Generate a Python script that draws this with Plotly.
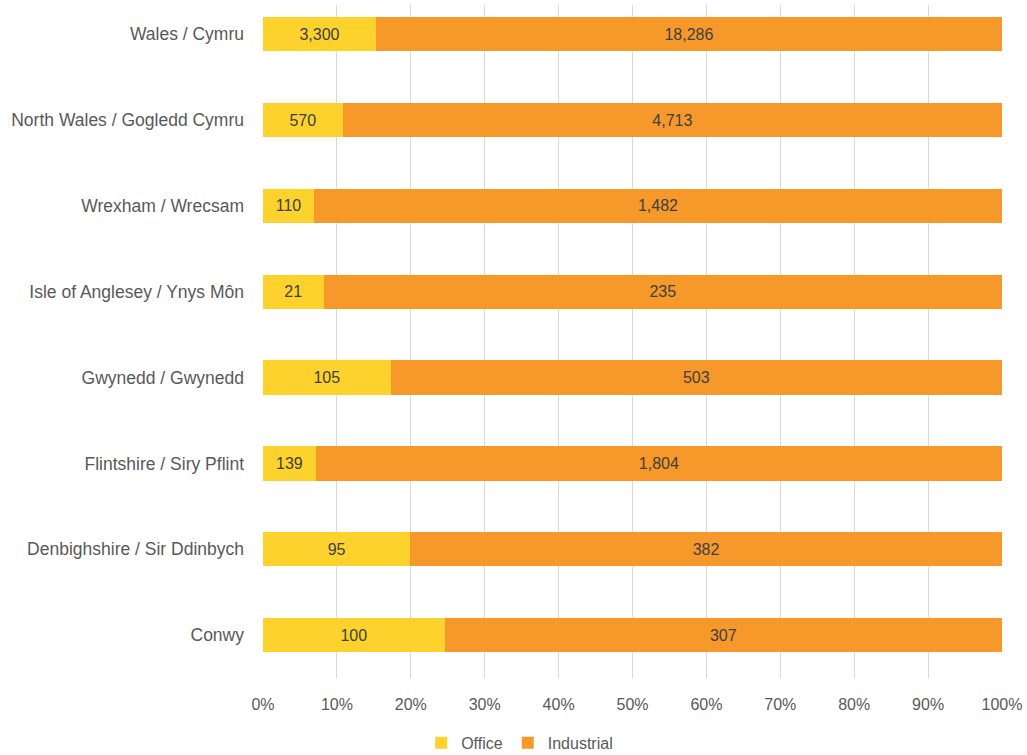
import plotly.graph_objects as go

# Areas listed bottom-to-top as they appear on the y axis
areas = [
    "Conwy",
    "Denbighshire / Sir Ddinbych",
    "Flintshire / Siry Pflint",
    "Gwynedd / Gwynedd",
    "Isle of Anglesey / Ynys Môn",
    "Wrexham / Wrecsam",
    "North Wales / Gogledd Cymru",
    "Wales / Cymru",
]
office = [100, 95, 139, 105, 21, 110, 570, 3300]
industrial = [307, 382, 1804, 503, 235, 1482, 4713, 18286]

pct_ticks = [0, 10, 20, 30, 40, 50, 60, 70, 80, 90, 100]
pct_labels = [f"{p}%" for p in pct_ticks]

FONT = "Liberation Sans"
LABEL_GREY = "#595959"
VALUE_GREY = "#404040"

fig = go.Figure()
fig.add_trace(go.Bar(
    name="Office", y=areas, x=office, orientation="h",
    marker=dict(color="#FDD22C", line=dict(width=0)),
    text=[f"{v:,}" for v in office], textposition="inside",
    insidetextanchor="middle", textangle=0, constraintext="none",
    textfont=dict(family=FONT, size=16, color=VALUE_GREY),
    hoverinfo="skip",
))
fig.add_trace(go.Bar(
    name="Industrial", y=areas, x=industrial, orientation="h",
    marker=dict(color="#F6982A", line=dict(width=0)),
    text=[f"{v:,}" for v in industrial], textposition="inside",
    insidetextanchor="middle", textangle=0, constraintext="none",
    textfont=dict(family=FONT, size=16, color=VALUE_GREY),
    hoverinfo="skip",
))

fig.update_layout(
    width=1027, height=755,
    margin=dict(l=263, r=25, t=5, b=77, autoexpand=False),
    paper_bgcolor="white", plot_bgcolor="white",
    barmode="stack", barnorm="percent", bargap=0.6,
    font=dict(family=FONT, size=16, color=LABEL_GREY),
    showlegend=True,
    legend=dict(
        orientation="h", xref="container", yref="container",
        x=0.506, xanchor="center", y=0.016, yanchor="middle",
        font=dict(family=FONT, size=16, color=LABEL_GREY),
        itemwidth=30, traceorder="normal", bgcolor="rgba(0,0,0,0)",
    ),
)
fig.update_xaxes(
    range=[0, 100], tickvals=pct_ticks, ticktext=pct_labels,
    showgrid=True, gridcolor="#D9D9D9", gridwidth=1,
    zeroline=False, showline=False, ticks="",
    ticklabelstandoff=15, automargin=False,
    tickfont=dict(family=FONT, size=16, color=LABEL_GREY),
)
fig.update_yaxes(
    type="category", categoryorder="array", categoryarray=areas,
    range=[-0.5, 7.34], showgrid=False, zeroline=False, showline=False,
    ticks="", ticklabelstandoff=18, automargin=False,
    tickfont=dict(family=FONT, size=17.5, color=LABEL_GREY),
)

fig.write_html("out.html")
